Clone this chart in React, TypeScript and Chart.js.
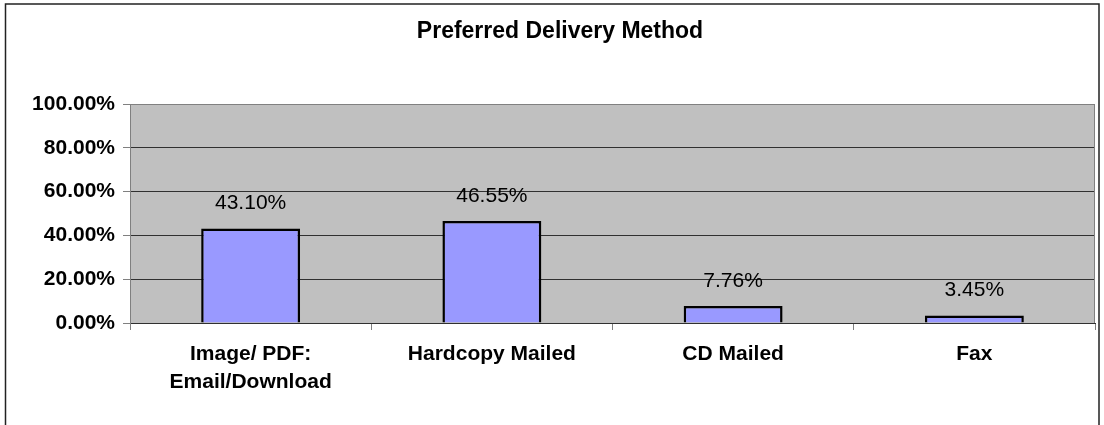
import React, { useEffect, useRef } from "react";
import { Chart, registerables } from "chart.js";

Chart.register(...registerables);

const TITLE = "Preferred Delivery Method";
const categories: (string | string[])[] = [
  ["Image/ PDF:", "Email/Download"],
  "Hardcopy Mailed",
  "CD Mailed",
  "Fax",
];
const values = [43.1, 46.55, 7.76, 3.45];
const valueLabels = ["43.10%", "46.55%", "7.76%", "3.45%"];
const yMax = 100;
const yStep = 20;

const FONT = "'Liberation Sans', Arial, sans-serif";

const framePlugin = {
  id: "frame",
  beforeDraw(chart: any) {
    const { ctx, chartArea } = chart;
    ctx.save();
    ctx.fillStyle = "#ffffff";
    ctx.fillRect(0, 0, chart.width, chart.height);
    ctx.fillStyle = "#C0C0C0";
    ctx.fillRect(chartArea.left, chartArea.top, chartArea.right - chartArea.left, chartArea.bottom - chartArea.top);
    // outer frame (left, top, right edges visible)
    ctx.strokeStyle = "#222222";
    ctx.lineWidth = 1.5;
    ctx.beginPath();
    ctx.moveTo(5.5, chart.height);
    ctx.lineTo(5.5, 4);
    ctx.lineTo(chart.width - 5, 4);
    ctx.lineTo(chart.width - 5, chart.height);
    ctx.stroke();
    // title
    ctx.fillStyle = "#000";
    ctx.font = `bold 23px ${FONT}`;
    ctx.textAlign = "center";
    ctx.textBaseline = "middle";
    ctx.fillText(TITLE, 560, 32);
    ctx.restore();
  },
  afterDraw(chart: any) {
    const { ctx, chartArea } = chart;
    ctx.save();
    ctx.strokeStyle = "#808080";
    ctx.lineWidth = 1;
    ctx.beginPath();
    ctx.moveTo(Math.round(chartArea.right) - 0.5, chartArea.top);
    ctx.lineTo(Math.round(chartArea.right) - 0.5, chartArea.bottom);
    ctx.stroke();
    // data labels
    const meta = chart.getDatasetMeta(0);
    ctx.fillStyle = "#000";
    ctx.font = `21px ${FONT}`;
    ctx.textAlign = "center";
    ctx.textBaseline = "middle";
    meta.data.forEach((bar: any, i: number) => {
      ctx.fillText(valueLabels[i], bar.x, bar.y - 25);
    });
    ctx.restore();
  },
};

export default function App() {
  const ref = useRef<HTMLCanvasElement | null>(null);
  useEffect(() => {
    if (!ref.current) return;
    const chart = new Chart(ref.current, {
      type: "bar",
      data: {
        labels: categories,
        datasets: [
          {
            data: values,
            backgroundColor: "#9999FF",
            borderColor: "#000000",
            borderWidth: 2.5,
            categoryPercentage: 1,
            barPercentage: 0.41,
          },
        ],
      },
      options: {
        animation: false,
        responsive: false,
        maintainAspectRatio: false,
        layout: { padding: { top: 104, right: 9, left: 0, bottom: 0 } },
        plugins: {
          legend: { display: false },
          title: { display: false },
          tooltip: { enabled: false },
        },
        scales: {
          x: {
            offset: true,
            grid: {
              offset: true,
              drawOnChartArea: false,
              drawTicks: true,
              tickLength: 7,
              tickColor: "#808080",
            },
            border: { color: "#303030", width: 1 },
            ticks: {
              color: "#000",
              font: { family: FONT, size: 21, weight: "bold", lineHeight: 1.3 },
              padding: 11,
              maxRotation: 0,
              autoSkip: false,
            },
            afterFit(scale: any) {
              scale.height = 102;
            },
          },
          y: {
            min: 0,
            max: yMax,
            ticks: {
              stepSize: yStep,
              color: "#000",
              font: { family: FONT, size: 21, weight: "bold" },
              padding: 8,
              callback: (v: any) => Number(v).toFixed(2) + "%",
            },
            grid: {
              color: (c: any) => (c.tick && c.tick.value === yMax ? "#808080" : "#303030"),
              tickColor: "#808080",
              tickLength: 7,
              drawTicks: true,
            },
            border: { color: "#808080", width: 1 },
            afterFit(scale: any) {
              scale.width = 130;
            },
          },
        },
      },
      plugins: [framePlugin],
    });
    return () => chart.destroy();
  }, []);
  return (
    <div style={{ position: "absolute", left: 0, top: 0, width: 1104, height: 425 }}>
      <canvas ref={ref} width={1104} height={425} style={{ width: 1104, height: 425, display: "block" }} />
    </div>
  );
}
